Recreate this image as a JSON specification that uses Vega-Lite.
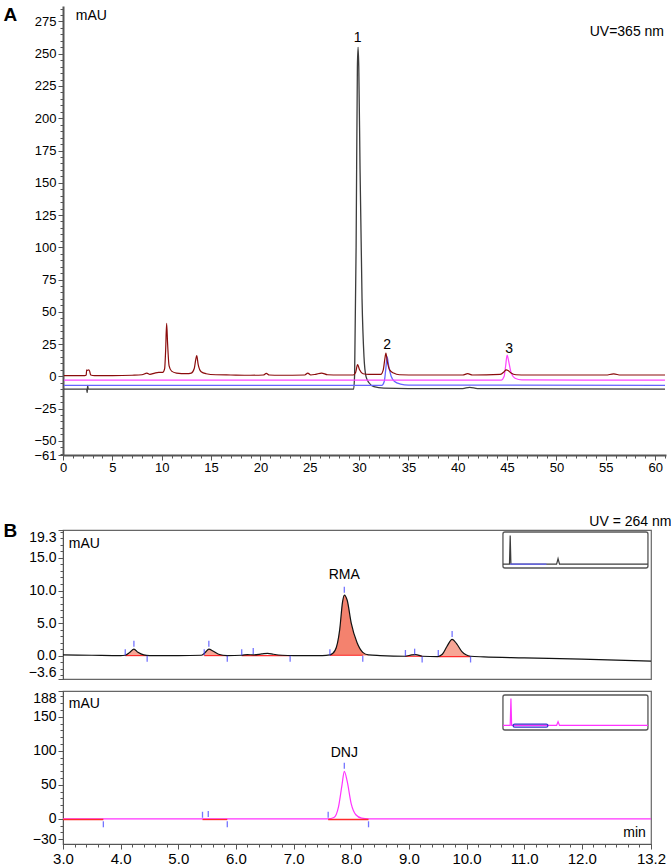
{
"$schema": "https://vega.github.io/schema/vega-lite/v6.json",
"background": "white",
"padding": {"left": 2, "top": 2, "right": 2, "bottom": 2},
"autosize": {"type": "pad"},
"config": {
 "font": "Liberation Sans",
 "view": {"stroke": "#666", "strokeWidth": 1.2},
 "axis": {"labelFont": "Liberation Sans", "labelColor": "#000", "tickColor": "#555", "domainColor": "#555", "grid": false, "labelPadding": 2, "titleColor": "#000", "titleFont": "Liberation Sans"},
 "title": {"font": "Liberation Sans", "color": "#000"},
 "text": {"font": "Liberation Sans", "color": "#000"}
},
"datasets": {
 "a": [
  {"s":"k","t":0.1,"v":-10},{"s":"k","t":2.4,"v":-10},{"s":"k","t":2.45,"v":-12.5},{"s":"k","t":2.5,"v":-7},{"s":"k","t":2.55,"v":-10},{"s":"k","t":15,"v":-10},{"s":"k","t":29.45,"v":-10},{"s":"k","t":29.55,"v":2},{"s":"k","t":29.7,"v":100},{"s":"k","t":29.83,"v":240},{"s":"k","t":29.9,"v":255},{"s":"k","t":29.97,"v":240},{"s":"k","t":30.1,"v":160},{"s":"k","t":30.3,"v":60},{"s":"k","t":30.5,"v":15},{"s":"k","t":30.7,"v":0},{"s":"k","t":31,"v":-5},{"s":"k","t":31.5,"v":-8},{"s":"k","t":32.5,"v":-9.2},{"s":"k","t":35,"v":-9.5},{"s":"k","t":40.5,"v":-9.5},{"s":"k","t":41.2,"v":-8.6},{"s":"k","t":42,"v":-9.5},{"s":"k","t":50,"v":-9.8},{"s":"k","t":61,"v":-10},
  {"s":"b","t":0.1,"v":-7},{"s":"b","t":20,"v":-7},{"s":"b","t":32.3,"v":-7},{"s":"b","t":32.55,"v":-4},{"s":"b","t":32.7,"v":5},{"s":"b","t":32.85,"v":15},{"s":"b","t":33.0,"v":8},{"s":"b","t":33.25,"v":0},{"s":"b","t":33.6,"v":-4},{"s":"b","t":34.2,"v":-6},{"s":"b","t":35,"v":-6.8},{"s":"b","t":45,"v":-6.8},{"s":"b","t":61,"v":-7},
  {"s":"m","t":0.1,"v":-3},{"s":"m","t":44.4,"v":-3},{"s":"m","t":44.7,"v":0},{"s":"m","t":44.85,"v":8},{"s":"m","t":45.0,"v":16.5},{"s":"m","t":45.15,"v":12},{"s":"m","t":45.4,"v":3},{"s":"m","t":45.8,"v":-1.5},{"s":"m","t":46.5,"v":-2.8},{"s":"m","t":61,"v":-3},
  {"s":"r","t":0.1,"v":0.5},{"s":"r","t":2.2,"v":0.5},{"s":"r","t":2.35,"v":1},{"s":"r","t":2.4,"v":5},{"s":"r","t":2.5,"v":4.5},{"s":"r","t":2.6,"v":5},{"s":"r","t":2.7,"v":4},{"s":"r","t":2.8,"v":1},{"s":"r","t":3.2,"v":0.5},{"s":"r","t":5,"v":0.5},{"s":"r","t":7,"v":0.8},{"s":"r","t":8,"v":1.2},{"s":"r","t":8.5,"v":2.5},{"s":"r","t":8.8,"v":1.5},{"s":"r","t":9.3,"v":2.5},{"s":"r","t":9.7,"v":3},{"s":"r","t":10.1,"v":3},{"s":"r","t":10.3,"v":6},{"s":"r","t":10.4,"v":20},{"s":"r","t":10.5,"v":41},{"s":"r","t":10.6,"v":25},{"s":"r","t":10.75,"v":8},{"s":"r","t":11,"v":4},{"s":"r","t":11.5,"v":2.5},{"s":"r","t":12.5,"v":2},{"s":"r","t":13,"v":2.5},{"s":"r","t":13.3,"v":6},{"s":"r","t":13.45,"v":13},{"s":"r","t":13.55,"v":16},{"s":"r","t":13.7,"v":9},{"s":"r","t":14,"v":3.5},{"s":"r","t":14.5,"v":2},{"s":"r","t":15.5,"v":1.2},{"s":"r","t":17,"v":1},{"s":"r","t":19,"v":0.8},{"s":"r","t":20.3,"v":1},{"s":"r","t":20.6,"v":2.2},{"s":"r","t":20.9,"v":1},{"s":"r","t":22,"v":0.8},{"s":"r","t":24.5,"v":1},{"s":"r","t":24.8,"v":2.5},{"s":"r","t":25.1,"v":1},{"s":"r","t":25.6,"v":1.5},{"s":"r","t":26.2,"v":2.5},{"s":"r","t":26.8,"v":1.2},{"s":"r","t":28,"v":1},{"s":"r","t":29.4,"v":1},{"s":"r","t":29.65,"v":3},{"s":"r","t":29.85,"v":9},{"s":"r","t":30.05,"v":5},{"s":"r","t":30.4,"v":2},{"s":"r","t":31,"v":1.5},{"s":"r","t":32.2,"v":1.5},{"s":"r","t":32.45,"v":5},{"s":"r","t":32.62,"v":14},{"s":"r","t":32.72,"v":18},{"s":"r","t":32.85,"v":12},{"s":"r","t":33.1,"v":5},{"s":"r","t":33.5,"v":2.5},{"s":"r","t":34.1,"v":1.2},{"s":"r","t":36,"v":1},{"s":"r","t":40.5,"v":1},{"s":"r","t":41,"v":2},{"s":"r","t":41.5,"v":1},{"s":"r","t":44.3,"v":1.5},{"s":"r","t":44.7,"v":3.5},{"s":"r","t":44.9,"v":5},{"s":"r","t":45.1,"v":4.5},{"s":"r","t":45.4,"v":2.5},{"s":"r","t":45.9,"v":1.2},{"s":"r","t":47,"v":1},{"s":"r","t":50,"v":1},{"s":"r","t":55,"v":1},{"s":"r","t":55.8,"v":1.8},{"s":"r","t":56.5,"v":1},{"s":"r","t":61,"v":1}
 ],
 "bt": [
  {"t":3.0,"v":0.1},{"t":3.5,"v":0.05},{"t":4.0,"v":0.0},{"t":4.08,"v":0.05},{"t":4.16,"v":0.5},{"t":4.23,"v":1.0},{"t":4.3,"v":0.5},{"t":4.4,"v":0.1},{"t":4.5,"v":0.0},{"t":5.0,"v":0.0},{"t":5.4,"v":0.05},{"t":5.47,"v":0.5},{"t":5.53,"v":1.0},{"t":5.6,"v":0.7},{"t":5.7,"v":0.2},{"t":5.85,"v":0.0},{"t":6.1,"v":0.05},{"t":6.2,"v":0.15},{"t":6.3,"v":0.1},{"t":6.45,"v":0.25},{"t":6.55,"v":0.35},{"t":6.65,"v":0.2},{"t":6.8,"v":0.05},{"t":7.0,"v":0.0},{"t":7.5,"v":0.0},{"t":7.63,"v":0.1},{"t":7.72,"v":0.8},{"t":7.8,"v":4.0},{"t":7.85,"v":8.3},{"t":7.88,"v":9.3},{"t":7.93,"v":8.5},{"t":8.0,"v":5.0},{"t":8.1,"v":2.0},{"t":8.2,"v":0.5},{"t":8.3,"v":0.1},{"t":8.5,"v":0.0},{"t":8.94,"v":-0.1},{"t":9.05,"v":0.1},{"t":9.12,"v":0.15},{"t":9.23,"v":-0.1},{"t":9.5,"v":-0.15},{"t":9.58,"v":0.2},{"t":9.66,"v":1.4},{"t":9.75,"v":2.5},{"t":9.83,"v":1.8},{"t":9.92,"v":0.6},{"t":10.07,"v":-0.1},{"t":10.3,"v":-0.2},{"t":11,"v":-0.35},{"t":12,"v":-0.55},{"t":13.2,"v":-0.85}
 ],
 "btseg": [
  {"seg":1,"t":4.08,"v":0.0},{"seg":1,"t":4.46,"v":0.0},{"seg":2,"t":5.45,"v":0.0},{"seg":2,"t":5.85,"v":0.0},{"seg":3,"t":6.1,"v":0.0},{"seg":3,"t":6.94,"v":0.0},{"seg":4,"t":7.63,"v":0.05},{"seg":4,"t":8.2,"v":0.05},{"seg":5,"t":8.94,"v":-0.1},{"seg":5,"t":9.23,"v":-0.1},{"seg":6,"t":9.51,"v":-0.15},{"seg":6,"t":10.07,"v":-0.15}
 ],
 "btticks": [
  {"t":4.08,"v":0.5},{"t":4.23,"v":1.8},{"t":4.46,"v":-0.5},{"t":5.45,"v":0.5},{"t":5.53,"v":1.8},{"t":5.85,"v":-0.5},{"t":6.1,"v":0.5},{"t":6.3,"v":0.7},{"t":6.94,"v":-0.5},{"t":7.63,"v":0.5},{"t":7.88,"v":10.1},{"t":8.2,"v":-0.5},{"t":8.94,"v":0.4},{"t":9.1,"v":0.6},{"t":9.23,"v":-0.6},{"t":9.51,"v":0.4},{"t":9.75,"v":3.3},{"t":10.07,"v":-0.6}
 ],
 "bb": [
  {"t":3.0,"v":0},{"t":5.0,"v":0},{"t":7.6,"v":0},{"t":7.7,"v":2},{"t":7.78,"v":18},{"t":7.84,"v":50},{"t":7.88,"v":70},{"t":7.93,"v":55},{"t":8.0,"v":22},{"t":8.08,"v":6},{"t":8.18,"v":1},{"t":8.3,"v":0},{"t":13.2,"v":0}
 ],
 "bbseg": [
  {"seg":1,"t":3.0,"v":-1},{"seg":1,"t":3.7,"v":-1},{"seg":2,"t":5.42,"v":-1},{"seg":2,"t":5.85,"v":-1},{"seg":3,"t":7.6,"v":-1},{"seg":3,"t":8.3,"v":-1}
 ],
 "bbticks": [
  {"t":3.7,"v":-8},{"t":5.42,"v":6},{"t":5.52,"v":7},{"t":5.85,"v":-8},{"t":7.6,"v":6},{"t":7.88,"v":78},{"t":8.3,"v":-8}
 ],
 "it": [
  {"s":"k","u":0,"w":0.11},{"s":"k","u":0.045,"w":0.11},{"s":"k","u":0.05,"w":0.9},{"s":"k","u":0.055,"w":0.11},{"s":"k","u":0.37,"w":0.11},{"s":"k","u":0.38,"w":0.26},{"s":"k","u":0.39,"w":0.11},{"s":"k","u":1,"w":0.11},
  {"s":"b","u":0.05,"w":0.11},{"s":"b","u":0.3,"w":0.11}
 ],
 "ib": [
  {"u":0,"w":0.13},{"u":0.05,"w":0.13},{"u":0.055,"w":0.9},{"u":0.06,"w":0.13},{"u":0.37,"w":0.13},{"u":0.38,"w":0.24},{"u":0.39,"w":0.13},{"u":1,"w":0.13}
 ]
},
"spacing": 5,
"vconcat": [
 {
  "width": 603, "height": 449,
  "view": {"stroke": null},
  "layer": [
   {"data": {"name": "a"},
    "mark": {"type": "line", "interpolate": "monotone"},
    "encoding": {
     "x": {"field": "t", "type": "quantitative", "scale": {"domain": [0, 61.1], "nice": false, "zero": false},
      "axis": {"title": "\u00a0", "titleFontSize": 14, "titlePadding": 21, "tickCount": 1000, "format": "d", "values": [0,1,2,3,4,5,6,7,8,9,10,11,12,13,14,15,16,17,18,19,20,21,22,23,24,25,26,27,28,29,30,31,32,33,34,35,36,37,38,39,40,41,42,43,44,45,46,47,48,49,50,51,52,53,54,55,56,57,58,59,60,61],
       "labelExpr": "datum.value % 5 === 0 ? datum.label : ''",
       "tickSize": {"condition": {"test": "datum.value % 5 === 0", "value": 5}, "value": 3},
       "labelOverlap": false, "labelFlush": false, "labelFontSize": 13, "domainWidth": 2, "labelPadding": 1}},
     "y": {"field": "v", "type": "quantitative", "scale": {"domain": [-61, 287], "nice": false, "zero": false},
      "axis": {"tickCount": 1000, "format": "d", "values": [-61,-60,-55,-50,-45,-40,-35,-30,-25,-20,-15,-10,-5,0,5,10,15,20,25,30,35,40,45,50,55,60,65,70,75,80,85,90,95,100,105,110,115,120,125,130,135,140,145,150,155,160,165,170,175,180,185,190,195,200,205,210,215,220,225,230,235,240,245,250,255,260,265,270,275,280,285],
       "labelExpr": "(datum.value % 25 === 0 || datum.value === -61) ? datum.label : ''",
       "tickSize": {"condition": {"test": "datum.value % 25 === 0 || datum.value === -61", "value": 5}, "value": 3},
       "labelOverlap": false, "labelFlush": false, "labelFontSize": 13, "domainWidth": 2,
       "title": "A", "titleAngle": 0, "titleX": -60, "titleY": 14, "titleAlign": "left", "titleBaseline": "alphabetic", "titleFontSize": 19, "titleFontWeight": "bold"}},
     "color": {"field": "s", "type": "nominal", "scale": {"domain": ["k","b","m","r"], "range": ["#3c3c3c","#6464ff","#ff44ff","#8b0c0c"]}, "legend": null},
     "strokeWidth": {"field": "s", "type": "nominal", "scale": {"domain": ["k","b","m","r"], "range": [1.3,1.2,1.2,1.9]}, "legend": null}
    }},
   {"data": {"values": [{}]},
    "mark": {"type": "text", "fontSize": 14, "baseline": "middle", "align": "center"},
    "encoding": {"x": {"datum": 29.85, "type": "quantitative", "scale": {"domain": [0, 61.1], "nice": false, "zero": false}}, "y": {"datum": 262, "type": "quantitative", "scale": {"domain": [-61, 287], "nice": false, "zero": false}}, "text": {"value": "1"}}},
   {"data": {"values": [{}]},
    "mark": {"type": "text", "fontSize": 14, "baseline": "middle", "align": "center"},
    "encoding": {"x": {"datum": 32.84, "type": "quantitative", "scale": {"domain": [0, 61.1], "nice": false, "zero": false}}, "y": {"datum": 24, "type": "quantitative", "scale": {"domain": [-61, 287], "nice": false, "zero": false}}, "text": {"value": "2"}}},
   {"data": {"values": [{}]},
    "mark": {"type": "text", "fontSize": 14, "baseline": "middle", "align": "center"},
    "encoding": {"x": {"datum": 45.2, "type": "quantitative", "scale": {"domain": [0, 61.1], "nice": false, "zero": false}}, "y": {"datum": 21, "type": "quantitative", "scale": {"domain": [-61, 287], "nice": false, "zero": false}}, "text": {"value": "3"}}},
   {"data": {"values": [{}]},
    "mark": {"type": "text", "fontSize": 14, "baseline": "middle", "align": "left"},
    "encoding": {"x": {"datum": 1.3, "type": "quantitative", "scale": {"domain": [0, 61.1], "nice": false, "zero": false}}, "y": {"datum": 279, "type": "quantitative", "scale": {"domain": [-61, 287], "nice": false, "zero": false}}, "text": {"value": "mAU"}}},
   {"data": {"values": [{}]},
    "mark": {"type": "text", "fontSize": 14, "baseline": "middle", "align": "right"},
    "encoding": {"x": {"datum": 60.9, "type": "quantitative", "scale": {"domain": [0, 61.1], "nice": false, "zero": false}}, "y": {"datum": 266.5, "type": "quantitative", "scale": {"domain": [-61, 287], "nice": false, "zero": false}}, "text": {"value": "UV=365 nm"}}}
  ]
 },
 {
  "width": 588, "height": 149,
  "title": {"text": "UV = 264 nm", "anchor": "end", "fontSize": 14, "fontWeight": "normal", "offset": 4, "dx": 18, "dy": 12},
  "layer": [
   {"layer": [
     {"data": {"name": "bt"}, "transform": [{"filter": "datum.t >= 7.63 && datum.t <= 8.3"}],
      "mark": {"type": "area", "interpolate": "monotone", "color": "#f4826e"},
      "encoding": {"x": {"field": "t", "type": "quantitative", "scale": {"domain": [3, 13.2], "nice": false, "zero": false}, "axis": null},
       "y": {"field": "v", "type": "quantitative", "scale": {"domain": [-3.6, 19.3], "nice": false, "zero": false}}, "y2": {"datum": 0}}},
     {"data": {"name": "bt"}, "transform": [{"filter": "(datum.t >= 4.08 && datum.t <= 4.5) || (datum.t >= 5.4 && datum.t <= 5.85)"}],
      "mark": {"type": "area", "interpolate": "monotone", "color": "#f7a595"},
      "encoding": {"x": {"field": "t", "type": "quantitative", "scale": {"domain": [3, 13.2], "nice": false, "zero": false}, "axis": null},
       "y": {"field": "v", "type": "quantitative", "scale": {"domain": [-3.6, 19.3], "nice": false, "zero": false}}, "y2": {"datum": 0}}},
     {"data": {"name": "bt"}, "transform": [{"filter": "datum.t >= 9.5 && datum.t <= 10.07"}],
      "mark": {"type": "area", "interpolate": "monotone", "color": "#f7a595"},
      "encoding": {"x": {"field": "t", "type": "quantitative", "scale": {"domain": [3, 13.2], "nice": false, "zero": false}, "axis": null},
       "y": {"field": "v", "type": "quantitative", "scale": {"domain": [-3.6, 19.3], "nice": false, "zero": false}}, "y2": {"datum": -0.15}}},
     {"data": {"name": "btseg"},
      "mark": {"type": "line", "color": "#ff2a2a", "strokeWidth": 1.2},
      "encoding": {"x": {"field": "t", "type": "quantitative", "scale": {"domain": [3, 13.2], "nice": false, "zero": false}, "axis": null},
       "y": {"field": "v", "type": "quantitative", "scale": {"domain": [-3.6, 19.3], "nice": false, "zero": false}}, "detail": {"field": "seg"}}},
     {"data": {"name": "bt"},
      "mark": {"type": "line", "interpolate": "monotone", "color": "#111", "strokeWidth": 1.2},
      "encoding": {"x": {"field": "t", "type": "quantitative", "scale": {"domain": [3, 13.2], "nice": false, "zero": false}, "axis": null},
       "y": {"field": "v", "type": "quantitative", "scale": {"domain": [-3.6, 19.3], "nice": false, "zero": false},
        "axis": {"tickCount": 1000, "values": [-3.6,-3,-2,-1,0,1,2,3,4,5,6,7,8,9,10,11,12,13,14,15,16,17,18,19,19.3], "format": ".1f",
         "labelExpr": "(datum.value % 5 === 0 || datum.value === 19.3 || datum.value === -3.6) ? datum.label : ''",
         "tickSize": {"condition": {"test": "datum.value % 5 === 0 || datum.value === 19.3 || datum.value === -3.6", "value": 5}, "value": 3},
         "labelOverlap": false, "labelFlush": 2, "labelFontSize": 14,
         "title": "B", "titleAngle": 0, "titleX": -60, "titleY": 6, "titleAlign": "left", "titleBaseline": "alphabetic", "titleFontSize": 19, "titleFontWeight": "bold"}}}},
     {"data": {"name": "btticks"},
      "mark": {"type": "tick", "orient": "vertical", "color": "#3b3bff", "size": 6, "thickness": 1.3},
      "encoding": {"x": {"field": "t", "type": "quantitative", "scale": {"domain": [3, 13.2], "nice": false, "zero": false}, "axis": null},
       "y": {"field": "v", "type": "quantitative", "scale": {"domain": [-3.6, 19.3], "nice": false, "zero": false}}}},
     {"data": {"values": [{}]},
      "mark": {"type": "text", "fontSize": 14, "baseline": "middle", "align": "left"},
      "encoding": {"x": {"datum": 3.1, "type": "quantitative", "scale": {"domain": [3, 13.2], "nice": false, "zero": false}, "axis": null}, "y": {"datum": 17.15, "type": "quantitative", "scale": {"domain": [-3.6, 19.3], "nice": false, "zero": false}}, "text": {"value": "mAU"}}},
     {"data": {"values": [{}]},
      "mark": {"type": "text", "fontSize": 14, "baseline": "middle", "align": "center"},
      "encoding": {"x": {"datum": 7.88, "type": "quantitative", "scale": {"domain": [3, 13.2], "nice": false, "zero": false}, "axis": null}, "y": {"datum": 12.4, "type": "quantitative", "scale": {"domain": [-3.6, 19.3], "nice": false, "zero": false}}, "text": {"value": "RMA"}}}
   ]},
   {"layer": [
     {"data": {"values": [{}]},
      "mark": {"type": "rect", "fill": "white", "stroke": "#555", "strokeWidth": 1.3, "cornerRadius": 2},
      "encoding": {"x": {"datum": 0, "type": "quantitative", "scale": {"domain": [-3.034, 1.021], "nice": false, "zero": false}, "axis": null}, "x2": {"datum": 1},
       "y": {"datum": 0, "type": "quantitative", "scale": {"domain": [-3.083, 1.056], "nice": false, "zero": false}, "axis": null}, "y2": {"datum": 1}}},
     {"data": {"name": "it"},
      "mark": {"type": "line", "strokeWidth": 1.2},
      "encoding": {"x": {"field": "u", "type": "quantitative", "scale": {"domain": [-3.034, 1.021], "nice": false, "zero": false}, "axis": null},
       "y": {"field": "w", "type": "quantitative", "scale": {"domain": [-3.083, 1.056], "nice": false, "zero": false}, "axis": null},
       "color": {"field": "s", "type": "nominal", "scale": {"domain": ["k","b"], "range": ["#111111","#3333cc"]}, "legend": null}}}
   ]}
  ],
  "resolve": {"scale": {"x": "independent", "y": "independent"}}
 },
 {
  "width": 588, "height": 153,
  "layer": [
   {"layer": [
     {"data": {"name": "bb"},
      "mark": {"type": "line", "interpolate": "monotone", "color": "#ff33ff", "strokeWidth": 1.2},
      "encoding": {"x": {"field": "t", "type": "quantitative", "scale": {"domain": [3, 13.2], "nice": false, "zero": false},
        "axis": {"title": null, "tickCount": 1000, "values": [3,3.2,3.4,3.6,3.8,4,4.2,4.4,4.6,4.8,5,5.2,5.4,5.6,5.8,6,6.2,6.4,6.6,6.8,7,7.2,7.4,7.6,7.8,8,8.2,8.4,8.6,8.8,9,9.2,9.4,9.6,9.8,10,10.2,10.4,10.6,10.8,11,11.2,11.4,11.6,11.8,12,12.2,12.4,12.6,12.8,13,13.2],
         "labelExpr": "((abs(datum.value - round(datum.value)) < 0.001 && datum.value < 12.5) || datum.value > 13.1) ? format(datum.value, '.1f') : ''",
         "tickSize": {"condition": {"test": "(abs(datum.value - round(datum.value)) < 0.001 && datum.value < 12.5) || datum.value > 13.1", "value": 5}, "value": 3},
         "labelOverlap": false, "labelFlush": false, "labelFontSize": 15}},
       "y": {"field": "v", "type": "quantitative", "scale": {"domain": [-37, 188], "nice": false, "zero": false},
        "axis": {"title": null, "tickCount": 1000, "format": "d", "values": [-30,-20,-10,0,10,20,30,40,50,60,70,80,90,100,110,120,130,140,150,160,170,180,188],
         "labelExpr": "(datum.value % 50 === 0 || datum.value === 188 || datum.value === -30) ? datum.label : ''",
         "tickSize": {"condition": {"test": "datum.value % 50 === 0 || datum.value === 188 || datum.value === -30", "value": 5}, "value": 3},
         "labelOverlap": false, "labelFlush": 2, "labelFontSize": 14}}}},
     {"data": {"name": "bbseg"},
      "mark": {"type": "line", "color": "#ff2a2a", "strokeWidth": 1.3},
      "encoding": {"x": {"field": "t", "type": "quantitative", "scale": {"domain": [3, 13.2], "nice": false, "zero": false}},
       "y": {"field": "v", "type": "quantitative", "scale": {"domain": [-37, 188], "nice": false, "zero": false}}, "detail": {"field": "seg"}}},
     {"data": {"name": "bbticks"},
      "mark": {"type": "tick", "orient": "vertical", "color": "#3b3bff", "size": 6, "thickness": 1.3},
      "encoding": {"x": {"field": "t", "type": "quantitative", "scale": {"domain": [3, 13.2], "nice": false, "zero": false}},
       "y": {"field": "v", "type": "quantitative", "scale": {"domain": [-37, 188], "nice": false, "zero": false}}}},
     {"data": {"values": [{}]},
      "mark": {"type": "text", "fontSize": 14, "baseline": "middle", "align": "left"},
      "encoding": {"x": {"datum": 3.1, "type": "quantitative", "scale": {"domain": [3, 13.2], "nice": false, "zero": false}}, "y": {"datum": 168.9, "type": "quantitative", "scale": {"domain": [-37, 188], "nice": false, "zero": false}}, "text": {"value": "mAU"}}},
     {"data": {"values": [{}]},
      "mark": {"type": "text", "fontSize": 14, "baseline": "middle", "align": "center"},
      "encoding": {"x": {"datum": 7.88, "type": "quantitative", "scale": {"domain": [3, 13.2], "nice": false, "zero": false}}, "y": {"datum": 96.8, "type": "quantitative", "scale": {"domain": [-37, 188], "nice": false, "zero": false}}, "text": {"value": "DNJ"}}},
     {"data": {"values": [{}]},
      "mark": {"type": "text", "fontSize": 14, "baseline": "middle", "align": "right"},
      "encoding": {"x": {"datum": 13.11, "type": "quantitative", "scale": {"domain": [3, 13.2], "nice": false, "zero": false}}, "y": {"datum": -20.8, "type": "quantitative", "scale": {"domain": [-37, 188], "nice": false, "zero": false}}, "text": {"value": "min"}}}
   ]},
   {"layer": [
     {"data": {"values": [{}]},
      "mark": {"type": "rect", "fill": "white", "stroke": "#555", "strokeWidth": 1.3, "cornerRadius": 2},
      "encoding": {"x": {"datum": 0, "type": "quantitative", "scale": {"domain": [-3.034, 1.021], "nice": false, "zero": false}, "axis": null}, "x2": {"datum": 1},
       "y": {"datum": 0, "type": "quantitative", "scale": {"domain": [-3.257, 1.114], "nice": false, "zero": false}, "axis": null}, "y2": {"datum": 1}}},
     {"data": {"name": "ib"},
      "mark": {"type": "line", "strokeWidth": 1.2, "color": "#ff33ff"},
      "encoding": {"x": {"field": "u", "type": "quantitative", "scale": {"domain": [-3.034, 1.021], "nice": false, "zero": false}, "axis": null},
       "y": {"field": "w", "type": "quantitative", "scale": {"domain": [-3.257, 1.114], "nice": false, "zero": false}, "axis": null}}},
     {"data": {"values": [{}]},
      "mark": {"type": "rect", "fill": null, "fillOpacity": 0, "stroke": "#3333cc", "strokeWidth": 1.3, "cornerRadius": 2},
      "encoding": {"x": {"datum": 0.07, "type": "quantitative", "scale": {"domain": [-3.034, 1.021], "nice": false, "zero": false}, "axis": null}, "x2": {"datum": 0.31},
       "y": {"datum": 0.08, "type": "quantitative", "scale": {"domain": [-3.257, 1.114], "nice": false, "zero": false}, "axis": null}, "y2": {"datum": 0.17}}}
   ]}
  ],
  "resolve": {"scale": {"x": "independent", "y": "independent"}}
 }
]
}
